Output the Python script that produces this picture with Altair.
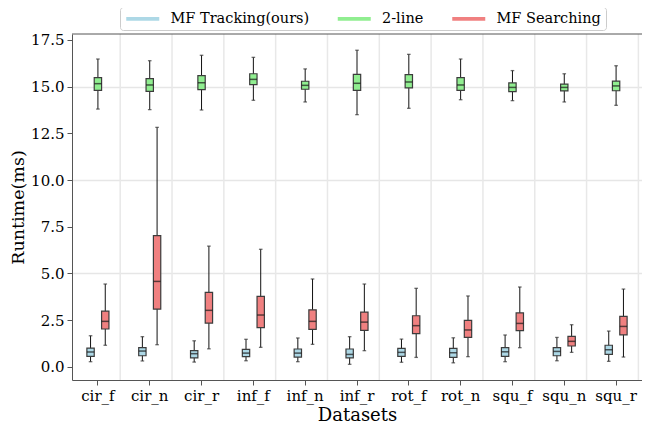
import altair as alt
import pandas as pd

datasets = ["cir_f", "cir_n", "cir_r", "inf_f", "inf_n", "inf_r",
            "rot_f", "rot_n", "squ_f", "squ_n", "squ_r"]
series = ["MF Tracking(ours)", "2-line", "MF Searching"]
colors = ["#add8e6", "#90ee90", "#f08080"]
y_ticks = [0.0, 2.5, 5.0, 7.5, 10.0, 12.5, 15.0, 17.5]

# MF Tracking(ours)
trk_lo = [0.27, 0.31, 0.25, 0.32, 0.27, 0.13, 0.24, 0.21, 0.27, 0.32, 0.29]
trk_q1 = [0.56, 0.59, 0.47, 0.54, 0.52, 0.48, 0.56, 0.50, 0.56, 0.59, 0.66]
trk_med = [0.79, 0.84, 0.70, 0.73, 0.73, 0.66, 0.77, 0.75, 0.80, 0.82, 0.91]
trk_q3 = [1.00, 1.02, 0.86, 0.93, 0.95, 0.95, 0.98, 0.98, 1.02, 1.02, 1.15]
trk_hi = [1.66, 1.61, 1.39, 1.47, 1.54, 1.61, 1.48, 1.55, 1.70, 1.57, 1.91]

# 2-line
two_lo = [13.80, 13.77, 13.75, 14.27, 14.18, 13.50, 13.84, 14.30, 14.25, 14.18, 14.00]
two_q1 = [14.80, 14.75, 14.84, 15.11, 14.86, 14.80, 14.93, 14.80, 14.73, 14.77, 14.78]
two_med = [15.16, 15.09, 15.21, 15.39, 15.07, 15.18, 15.25, 15.09, 14.96, 14.96, 15.04]
two_q3 = [15.48, 15.43, 15.59, 15.69, 15.29, 15.66, 15.64, 15.48, 15.20, 15.14, 15.30]
two_hi = [16.48, 16.39, 16.68, 16.57, 15.95, 16.95, 16.73, 16.48, 15.86, 15.69, 16.12]

# MF Searching
srch_lo = [1.15, 1.18, 0.96, 1.04, 1.20, 0.86, 0.50, 0.54, 1.02, 0.77, 0.52]
srch_q1 = [2.02, 3.09, 2.34, 2.09, 2.00, 1.95, 1.77, 1.57, 1.93, 1.11, 1.71]
srch_med = [2.43, 4.57, 3.02, 2.77, 2.43, 2.39, 2.20, 1.97, 2.32, 1.36, 2.16]
srch_q3 = [2.98, 7.02, 3.98, 3.77, 3.05, 2.93, 2.73, 2.48, 2.88, 1.63, 2.70]
srch_hi = [4.43, 12.82, 6.46, 6.29, 4.70, 4.43, 4.20, 3.79, 4.27, 2.25, 4.16]

rows = []
for name, lo, q1, med, q3, hi in [
    (series[0], trk_lo, trk_q1, trk_med, trk_q3, trk_hi),
    (series[1], two_lo, two_q1, two_med, two_q3, two_hi),
    (series[2], srch_lo, srch_q1, srch_med, srch_q3, srch_hi),
]:
    for i, d in enumerate(datasets):
        rows.append({"dataset": d, "series": name, "lo": lo[i], "q1": q1[i],
                     "med": med[i], "q3": q3[i], "hi": hi[i]})
df = pd.DataFrame(rows)

FONT = "DejaVu Serif"
YT = "Runtime(ms)"
W, H = 570, 346

X = alt.X("dataset:N", sort=datasets, title="Datasets",
          scale=alt.Scale(paddingInner=0, paddingOuter=0),
          axis=alt.Axis(labelAngle=0, grid=False, labelAlign="center"))
XO = alt.XOffset("series:N", sort=series,
                 scale=alt.Scale(domain=series, range=[14.88, 36.94],
                                 paddingInner=0, paddingOuter=0))

base = alt.Chart(df)

whisk = base.mark_rule(color="#111111", strokeWidth=1).encode(
    x=X, xOffset=XO,
    y=alt.Y("lo:Q", title=YT,
            scale=alt.Scale(domain=[-0.71, 17.82], nice=False, zero=False),
            axis=alt.Axis(values=y_ticks, format=".1f", grid=True,
                          gridOpacity={"condition": {"test": "datum.value % 5 === 0 && datum.value > 0", "value": 1}, "value": 0})),
    y2=alt.Y2("hi:Q", title=YT),
)

# vertical separators between datasets
vgrid = alt.Chart(pd.DataFrame({"dataset": datasets})).mark_rule(
    color="#e8e8e8", strokeWidth=1.5, xOffset=22.3
).encode(x=alt.X("dataset:N", sort=datasets, title="Datasets"))

# top spine of the frame
top_spine = alt.Chart(pd.DataFrame({"dataset": datasets[:1]})).mark_rule(
    color="#555555", strokeWidth=1
).encode(y=alt.value(0))

box = base.mark_bar(stroke="#3c3c3c", strokeWidth=1.2).encode(
    x=X, xOffset=XO,
    y=alt.Y("q1:Q", title=YT), y2=alt.Y2("q3:Q", title=YT),
    fill=alt.Fill("series:N", scale=alt.Scale(domain=series, range=colors),
                  legend=alt.Legend(title=None, orient="none", legendX=48, legendY=-27,
                                    direction="horizontal",
                                    symbolType="M-1,-0.33H5V0.33H-1Z",
                                    symbolSize=121, symbolStrokeWidth=0,
                                    labelFont=FONT, labelFontSize=14.5, labelOffset=31.5,
                                    columnPadding=26.5, padding=4.5,
                                    strokeColor="#cccccc", fillColor="white",
                                    cornerRadius=3)),
)

med = base.mark_tick(color="#1a1a1a", thickness=1.5, size=7.3).encode(
    x=X, xOffset=XO, y=alt.Y("med:Q", title=YT))

cap_lo = base.mark_tick(color="#333333", thickness=1.3, size=3.6).encode(
    x=X, xOffset=XO, y=alt.Y("lo:Q", title=YT))
cap_hi = base.mark_tick(color="#333333", thickness=1.3, size=3.6).encode(
    x=X, xOffset=XO, y=alt.Y("hi:Q", title=YT))

chart = alt.layer(whisk, vgrid, top_spine, box, med, cap_lo, cap_hi).properties(
    width=W, height=H,
    autosize=alt.AutoSizeParams(type="none"),
    padding={"left": 64, "top": 26, "right": 0, "bottom": 44},
).configure_view(
    strokeWidth=0
).configure_axis(
    labelFont=FONT, titleFont=FONT, labelFontSize=15, titleFontSize=17.5,
    titleFontWeight="normal", labelColor="#000000", titleColor="#000000",
    domainColor="#555555", tickColor="#555555", tickSize=5, labelPadding=3,
    gridColor="#e6e6e6", gridWidth=1.5,
).configure_axisY(
    titlePadding=3
).configure_axisX(
    titlePadding=3, labelPadding=3, titleFontSize=18
)

chart.save("out.html", embed_options={"renderer": "svg", "actions": False})
